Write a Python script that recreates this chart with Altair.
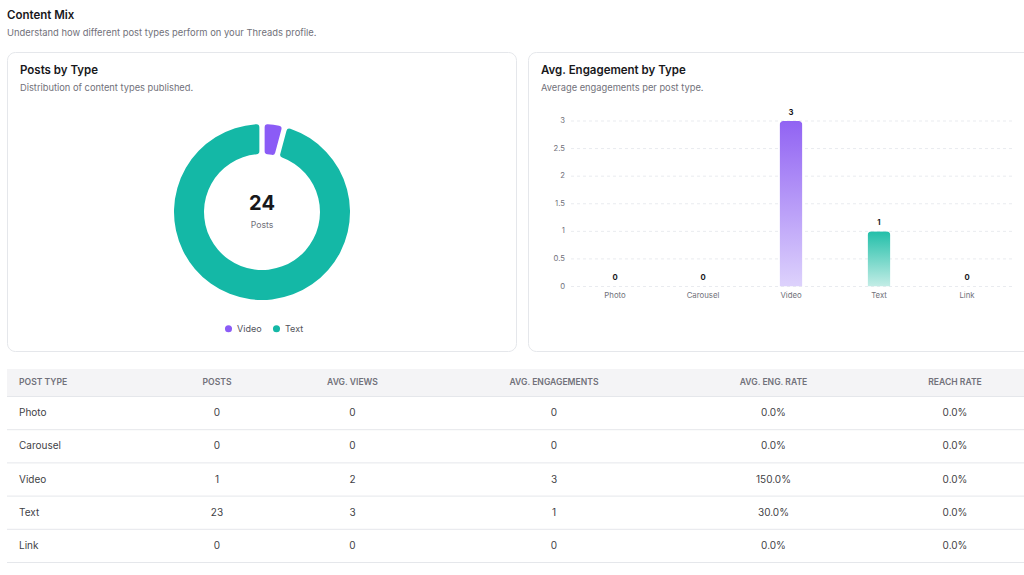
import altair as alt
import pandas as pd

# ---------------- data ----------------
POST_TYPES = ["Photo", "Carousel", "Video", "Text", "Link"]
POSTS = [0, 0, 1, 23, 0]
AVG_VIEWS = [0, 0, 2, 3, 0]
AVG_ENG = [0, 0, 3, 1, 0]
ENG_RATE = [0.0, 0.0, 1.5, 0.3, 0.0]
REACH_RATE = [0.0, 0.0, 0.0, 0.0, 0.0]
Y_TICKS = [0, 0.5, 1, 1.5, 2, 2.5, 3]
HEADERS = ["POST TYPE", "POSTS", "AVG. VIEWS", "AVG. ENGAGEMENTS", "AVG. ENG. RATE", "REACH RATE"]

PAGE_TITLE = "Content Mix"
PAGE_SUB = "Understand how different post types perform on your Threads profile."
CARD1_TITLE = "Posts by Type"
CARD1_SUB = "Distribution of content types published."
CARD2_TITLE = "Avg. Engagement by Type"
CARD2_SUB = "Average engagements per post type."
CENTER_LABEL = "Posts"

# ---------------- style ----------------
FONT = "Inter"
PURPLE = "#8b5cf6"
TEAL = "#14b8a6"
DARK = "#18181b"
MID = "#3f3f46"
GREY = "#71717a"
BORDER = "#e5e7eb"
BAR_GRADIENTS = {
    "Video": ("#9163f3", "#ddd2fc"),
    "Text": ("#22bfa9", "#c3ede6"),
}

df = pd.DataFrame({
    "type": POST_TYPES,
    "posts": POSTS,
    "views": AVG_VIEWS,
    "eng": AVG_ENG,
    "rate": ENG_RATE,
    "reach": REACH_RATE,
    "idx": list(range(len(POST_TYPES))),
})
ticks_df = pd.DataFrame({"v": Y_TICKS})
one = pd.DataFrame({"k": [0]})

layers = []

# ---------- cards / page text ----------
def rect(x, x2, y, y2, fill, stroke=None, radius=0):
    kw = dict(fill=fill, cornerRadius=radius)
    if stroke:
        kw.update(stroke=stroke, strokeWidth=1)
    return alt.Chart(one).mark_rect(**kw).encode(
        x=alt.value(x), x2=alt.value(x2), y=alt.value(y), y2=alt.value(y2))

def label(text, x, y, size, color, weight="normal", align="left", **extra):
    return alt.Chart(one).mark_text(
        text=text, fontSize=size, color=color, fontWeight=weight, align=align,
        baseline="middle", font=FONT, **extra
    ).encode(x=alt.value(x), y=alt.value(y))

layers.append(rect(7.5, 516.5, 52.5, 351.5, "white", BORDER, 8))
layers.append(rect(528.5, 1040, 52.5, 351.5, "white", BORDER, 8))
layers.append(label(PAGE_TITLE, 7, 16, 11.5, DARK, 600))
layers.append(label(PAGE_SUB, 7, 33, 9.4, GREY))
layers.append(label(CARD1_TITLE, 20, 71, 11.5, DARK, 600))
layers.append(label(CARD1_SUB, 20, 88, 9.3, GREY))
layers.append(label(CARD2_TITLE, 541, 71, 11.5, DARK, 600))
layers.append(label(CARD2_SUB, 541, 88, 9.3, GREY))

# ---------- donut ----------
donut = alt.Chart(df).transform_filter("datum.posts > 0").mark_arc(
    innerRadius=58, outerRadius=88, padAngle=0.05, cornerRadius=3
).encode(
    theta=alt.Theta("posts:Q", stack=True),
    order=alt.Order("idx:Q"),
    color=alt.Color(
        "type:N",
        scale=alt.Scale(domain=["Video", "Text"], range=[PURPLE, TEAL]),
        legend=alt.Legend(
            orient="none", legendX=224, legendY=324, direction="horizontal",
            title=None, symbolType="circle", symbolSize=50, symbolStrokeWidth=0,
            labelFontSize=9, labelColor="#52525b", labelFont=FONT,
            labelOffset=4, columnPadding=10, padding=0,
        ),
    ),
    x=alt.value(262),
    y=alt.value(212),
)
layers.append(donut)

center_num = alt.Chart(df).transform_aggregate(total="sum(posts)").mark_text(
    fontSize=20, fontWeight="bold", color=DARK, font=FONT, baseline="middle", align="center"
).encode(text="total:Q", x=alt.value(262), y=alt.value(204))
layers.append(center_num)
layers.append(label(CENTER_LABEL, 262, 224.5, 8.7, GREY, align="center"))

# ---------- bar chart ----------
xband = alt.Scale(domain=POST_TYPES, range=[571, 1011], paddingInner=0, paddingOuter=0)
yscale = alt.Scale(domain=[0, 3], range=[286.5, 121], nice=False, zero=True)

grid = alt.Chart(ticks_df).mark_rule(color="#e9ebef", strokeDash=[3, 3], strokeWidth=1).encode(
    y=alt.Y("v:Q", scale=yscale, axis=None), x=alt.value(571), x2=alt.value(1012))
layers.append(grid)

ylabels = alt.Chart(ticks_df).mark_text(
    align="right", baseline="middle", fontSize=7.7, color=GREY, font=FONT
).encode(y=alt.Y("v:Q", scale=yscale, axis=None), x=alt.value(565), text=alt.Text("v:Q", format="~g"))
layers.append(ylabels)

for t, (top, bottom) in BAR_GRADIENTS.items():
    grad = {
        "gradient": "linear", "x1": 0, "y1": 0, "x2": 0, "y2": 1,
        "stops": [{"offset": 0, "color": top}, {"offset": 1, "color": bottom}],
    }
    bar = alt.Chart(df).transform_filter(f"datum.type == '{t}'").mark_bar(
        size=23, cornerRadiusTopLeft=4, cornerRadiusTopRight=4, color=grad
    ).encode(
        x=alt.X("type:N", scale=xband, axis=None),
        y=alt.Y("eng:Q", scale=yscale, axis=None),
    )
    layers.append(bar)

vals = alt.Chart(df).mark_text(
    dy=-8.5, fontSize=7.7, fontWeight="bold", color=DARK, font=FONT, baseline="middle"
).encode(
    x=alt.X("type:N", scale=xband, axis=None),
    y=alt.Y("eng:Q", scale=yscale, axis=None),
    text="eng:Q",
)
layers.append(vals)

xlabels = alt.Chart(df).mark_text(
    fontSize=7.8, color=GREY, font=FONT, baseline="middle"
).encode(x=alt.X("type:N", scale=xband, axis=None), y=alt.value(295.5), text="type:N")
layers.append(xlabels)

# ---------- table ----------
COL_X = [19, 217, 352.5, 554, 773.5, 955]
rowband = alt.Scale(domain=POST_TYPES, range=[396.5, 562.5], paddingInner=0, paddingOuter=0)

layers.append(rect(7, 1030, 369, 396.5, "#f4f4f6"))
layers.append(alt.Chart(one).mark_rule(color=BORDER).encode(
    y=alt.value(396.5), x=alt.value(7), x2=alt.value(1030)))
layers.append(alt.Chart(df).mark_rule(color=BORDER).encode(
    y=alt.Y("type:N", scale=rowband, axis=None, bandPosition=1),
    x=alt.value(7), x2=alt.value(1030)))

for i, (h, cx) in enumerate(zip(HEADERS, COL_X)):
    layers.append(label(h, cx, 382, 8.6, GREY, 600, align="left" if i == 0 else "center"))

cols = [("type:N", None), ("posts:Q", "d"), ("views:Q", "d"), ("eng:Q", "d"),
        ("rate:Q", ".1%"), ("reach:Q", ".1%")]
for i, ((field, fmt), cx) in enumerate(zip(cols, COL_X)):
    txt = alt.Text(field, format=fmt) if fmt else alt.Text(field)
    layers.append(alt.Chart(df).mark_text(
        fontSize=10, color=MID, font=FONT, baseline="middle",
        align="left" if i == 0 else "center"
    ).encode(
        y=alt.Y("type:N", scale=rowband, axis=None),
        x=alt.value(cx),
        text=txt,
    ))

chart = alt.layer(*layers).resolve_scale(
    x="independent", y="independent", color="independent"
).properties(
    width=1024, height=575, autosize="none", padding=0, background="white"
).configure(font=FONT).configure_view(stroke=None, strokeWidth=0)

chart.save("out.html", embed_options={"renderer": "svg", "actions": False})
